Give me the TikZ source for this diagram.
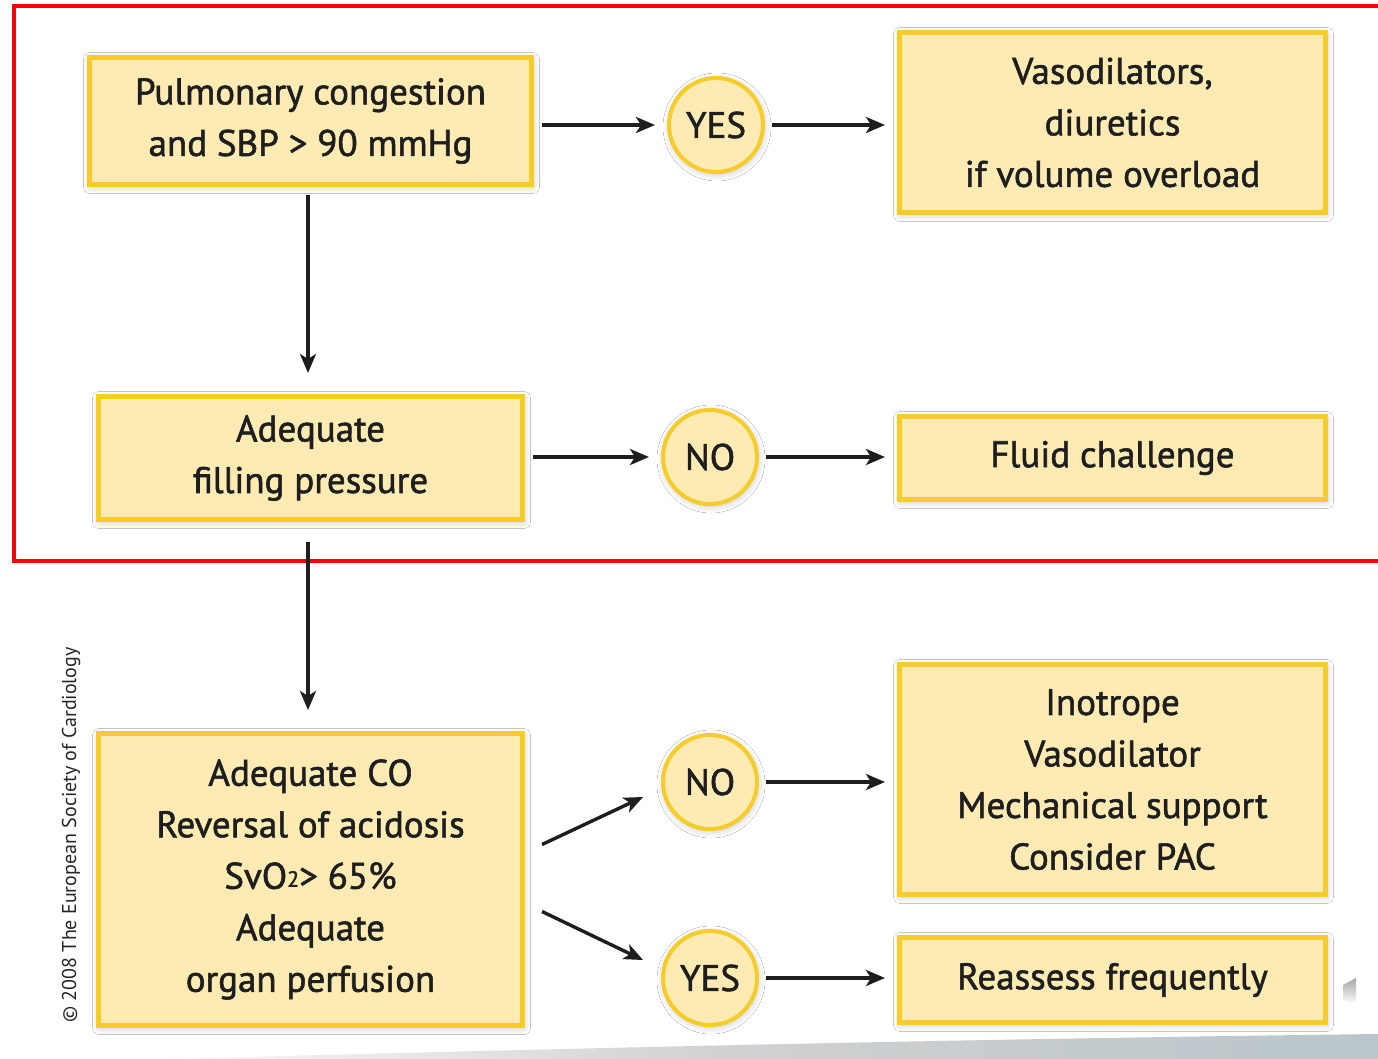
\documentclass[tikz,border=0pt]{standalone}
\usepackage{fontspec}
\setmainfont{PT Sans}
\newfontfamily\boxfont{PT Sans}[FakeBold=1.5]
\usetikzlibrary{arrows.meta,calc,shadows.blur}
\definecolor{boxfill}{HTML}{FDEBB3}
\definecolor{boxline}{HTML}{F6CC2A}
\definecolor{ink}{HTML}{1E1E1E}
\definecolor{redframe}{HTML}{FF0000}
\definecolor{curl}{HTML}{B9C6CB}
\begin{document}
\begin{tikzpicture}[x=1pt,y=-1pt,
  stepbox/.style={draw=boxline,line width=5pt,fill=boxfill,align=center,
    font=\boxfont\fontsize{37}{51.5}\selectfont,text=ink,inner sep=0pt,
    blur shadow={shadow xshift=1pt,shadow yshift=-2pt,shadow blur radius=7pt,shadow opacity=25}},
  answer/.style={circle,draw=boxline,line width=4pt,fill=boxfill,minimum size=94pt,
    inner sep=0pt,font=\boxfont\fontsize{37}{40}\selectfont,text=ink,
    blur shadow={shadow xshift=1pt,shadow yshift=-2pt,shadow blur radius=7pt,shadow opacity=25}},
  arr/.style={-{Stealth[length=19pt,width=16pt,inset=5pt]},line width=3.4pt,draw=ink},
  inarr/.style={arr,shorten <=8pt,shorten >=12pt},
  outarr/.style={arr,shorten <=7pt,shorten >=12pt}
]
\useasboundingbox (0,0) rectangle (1378,1059);
\clip (0,0) rectangle (1378,1059);
\fill[white] (0,0) rectangle (1378,1059);
% page-curl artefacts
\shade[left color=white,right color=curl,middle color=black!18]
  (60,1062) .. controls (500,1050) and (900,1040) .. (1378,1034) -- (1378,1062) -- cycle;
\shade[top color=black!35,bottom color=white] (1343,985) -- (1356,978) -- (1356,1004) -- (1343,1000) -- cycle;

% red frame
\draw[redframe,line width=4.5pt] (1400,6) -- (14,6) -- (14,561) -- (1400,561);

% boxes
\node[stepbox,minimum width=442,minimum height=127] (b1) at (310.5,121) {Pulmonary congestion\\and SBP > 90 mmHg};
\node[stepbox,minimum width=426,minimum height=180] (b2) at (1112.5,122.5) {Vasodilators,\\diuretics\\if volume overload};
\node[stepbox,minimum width=424,minimum height=123] (b3) at (310.5,458) {Adequate\\filling pressure};
\node[stepbox,minimum width=426,minimum height=83] (b4) at (1112.5,458) {Fluid challenge};
\node[stepbox,minimum width=424,minimum height=292] (b5) at (310.5,879.5) {Adequate CO\\Reversal of acidosis\\SvO\raisebox{2pt}{\fontsize{22}{22}\selectfont 2}> 65\%\\Adequate\\organ perfusion};
\node[stepbox,minimum width=426,minimum height=230] (b6) at (1112.5,779.5) {Inotrope\\Vasodilator\\Mechanical support\\Consider PAC};
\node[stepbox,minimum width=426,minimum height=85] (b7) at (1112.5,980) {Reassess frequently};

% answers
\node[answer] (y1) at (716,125) {YES};
\node[answer] (n1) at (710,457) {NO};
\node[answer] (n2) at (710,782) {NO};
\node[answer] (y2) at (710,978) {YES};

% connectors
\draw[inarr] (b1.east |- y1) -- (y1.west);
\draw[outarr] (y1.east) -- (y1 -| b2.west);
\draw[inarr] (b3.east |- n1) -- (n1.west);
\draw[outarr] (n1.east) -- (n1 -| b4.west);
\draw[outarr] (n2.east) -- (n2 -| b6.west);
\draw[outarr] (y2.east) -- (y2 -| b7.west);
\draw[arr,shorten <=8.5pt,shorten >=21pt] ([xshift=-2.5pt]b1.south) -- ([xshift=-2.5pt]b3.north);
\draw[arr,shorten <=20pt,shorten >=21pt] ([xshift=-2.5pt]b3.south) -- ([xshift=-2.5pt]b5.north);
\draw[arr] ([shift={(17,-35)}]b5.east) -- ([shift={(-18,15)}]n2.west);
\draw[arr] ([shift={(17,32)}]b5.east) -- ([shift={(-18,-18)}]y2.west);

% copyright
\node[rotate=90,font=\fontsize{20}{22}\selectfont,text=black!85,inner sep=0pt] (copy) at (71,835) {\textcopyright{} 2008 The European Society of Cardiology};
\end{tikzpicture}
\end{document}
